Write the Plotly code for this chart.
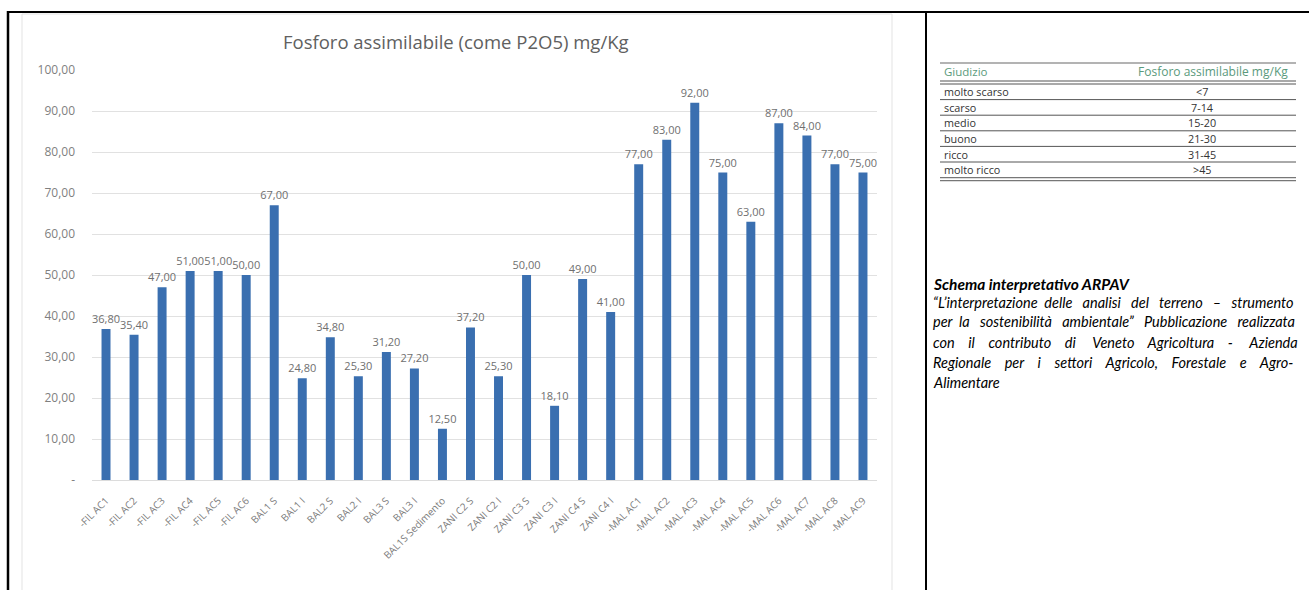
import plotly.graph_objects as go

# --- data -------------------------------------------------------------
samples = [
    "-FIL AC1", "-FIL AC2", "-FIL AC3", "-FIL AC4", "-FIL AC5", "-FIL AC6",
    "BAL1 S", "BAL1 I", "BAL2 S", "BAL2 I", "BAL3 S", "BAL3 I",
    "BAL1S Sedimento",
    "ZANI C2 S", "ZANI C2 I", "ZANI C3 S", "ZANI C3 I", "ZANI C4 S", "ZANI C4 I",
    "-MAL AC1", "-MAL AC2", "-MAL AC3", "-MAL AC4", "-MAL AC5",
    "-MAL AC6", "-MAL AC7", "-MAL AC8", "-MAL AC9",
]
phosphorus = [
    36.80, 35.40, 47.00, 51.00, 51.00, 50.00,
    67.00, 24.80, 34.80, 25.30, 31.20, 27.20,
    12.50,
    37.20, 25.30, 50.00, 18.10, 49.00, 41.00,
    77.00, 83.00, 92.00, 75.00, 63.00,
    87.00, 84.00, 77.00, 75.00,
]
y_ticks = [0, 10, 20, 30, 40, 50, 60, 70, 80, 90, 100]

classes = ["molto scarso", "scarso", "medio", "buono", "ricco", "molto ricco"]
class_ranges = ["<7", "7-14", "15-20", "21-30", "31-45", ">45"]

note_title = "Schema interpretativo ARPAV"
note_lines = [
    "\u201cL\u2019interpretazione delle analisi del terreno \u2013 strumento",
    "per la sostenibilit\u00e0 ambientale\u201d Pubblicazione realizzata",
    "con il contributo di Veneto Agricoltura - Azienda",
    "Regionale per i settori Agricolo, Forestale e Agro-",
    "Alimentare",
]

# --- page geometry (pixels) -------------------------------------------
W, H = 1309, 590


def px(x):
    return x / W


def py(y):
    return 1 - y / H


def fmt(v):
    return "-" if v == 0 else f"{v:.2f}".replace(".", ",")


def justify(line, extra):
    """Spread `extra` additional non-breaking spaces over the word gaps."""
    words = line.split(" ")
    gaps = len(words) - 1
    if gaps <= 0 or extra <= 0:
        return line
    out = words[0]
    for g in range(gaps):
        n = extra * (g + 1) // gaps - extra * g // gaps
        out += " " + "\u00a0" * n + words[g + 1]
    return out


fig = go.Figure()
fig.add_trace(go.Bar(
    x=samples,
    y=phosphorus,
    marker=dict(color="#3a6fb0", line=dict(width=0)),
    texttemplate="%{y:.2f}",
    textposition="outside",
    constraintext="none",
    textfont=dict(family="Open Sans", size=11, color="#6f6f6f"),
    cliponaxis=False,
    hoverinfo="x+y",
))

shapes = []
ann = []

# outer frame lines of the two-cell layout
black = "#000000"
shapes.append(dict(type="line", xref="paper", yref="paper",
                   x0=px(8), x1=px(8), y0=py(11), y1=py(592),
                   line=dict(color=black, width=2.5)))
shapes.append(dict(type="line", xref="paper", yref="paper",
                   x0=px(7), x1=px(1309), y0=py(12), y1=py(12),
                   line=dict(color=black, width=2)))
shapes.append(dict(type="line", xref="paper", yref="paper",
                   x0=px(926), x1=px(926), y0=py(12), y1=py(592),
                   line=dict(color=black, width=2)))
# chart picture edge
shapes.append(dict(type="rect", xref="paper", yref="paper",
                   x0=px(22), x1=px(892), y0=py(14), y1=py(592),
                   line=dict(color="#e3e3e3", width=1)))

# chart title
ann.append(dict(xref="paper", yref="paper", x=px(456), y=py(41),
                text="Fosforo assimilabile (come P2O5) mg/Kg", showarrow=False,
                xanchor="center", yanchor="middle",
                font=dict(family="Open Sans", size=18.5, color="#606060")))

# --- interpretation table ---------------------------------------------
t_left, t_right = 940, 1296
green = "#5a9a7c"
rule = "#555555"
ann.append(dict(xref="paper", yref="paper", x=px(942), y=py(72),
                text="Giudizio", showarrow=False, xanchor="left", yanchor="middle",
                font=dict(family="Open Sans", size=11.5, color=green)))
ann.append(dict(xref="paper", yref="paper", x=px(1290), y=py(72),
                text="Fosforo assimilabile mg/Kg", showarrow=False,
                xanchor="right", yanchor="middle",
                font=dict(family="Open Sans", size=12, color=green)))
for yl, w, c in [(63, 1.5, "#9a9a9a"), (81, 1.2, rule), (84, 1.2, rule)]:
    shapes.append(dict(type="line", xref="paper", yref="paper",
                       x0=px(t_left), x1=px(t_right), y0=py(yl), y1=py(yl),
                       line=dict(color=c, width=w)))
row_top, row_h = 84, 15.6
for i, (c, r) in enumerate(zip(classes, class_ranges)):
    yc = row_top + row_h * (i + 0.5)
    ann.append(dict(xref="paper", yref="paper", x=px(942), y=py(yc),
                    text=c, showarrow=False, xanchor="left", yanchor="middle",
                    font=dict(family="Open Sans", size=10.8, color="#333333")))
    ann.append(dict(xref="paper", yref="paper", x=px(1202), y=py(yc),
                    text=r, showarrow=False, xanchor="center", yanchor="middle",
                    font=dict(family="Open Sans", size=10.8, color="#333333")))
    yb = row_top + row_h * (i + 1)
    if i < len(classes) - 1:
        shapes.append(dict(type="line", xref="paper", yref="paper",
                           x0=px(t_left), x1=px(t_right), y0=py(yb), y1=py(yb),
                           line=dict(color=rule, width=1)))
    else:
        for yy in (yb, yb + 3):
            shapes.append(dict(type="line", xref="paper", yref="paper",
                               x0=px(t_left), x1=px(t_right), y0=py(yy), y1=py(yy),
                               line=dict(color="#777777", width=1.2)))

# --- source note --------------------------------------------------------
ann.append(dict(xref="paper", yref="paper", x=px(931), y=py(284),
                text=f"<b><i>{note_title}</i></b>", showarrow=False,
                xanchor="left", yanchor="middle",
                font=dict(family="Lato", size=15.5, color="#000000")))
# extra spacing per line so the paragraph reads as justified
line_fill = [11, 9, 23, 21, 0]
for i, (line, extra) in enumerate(zip(note_lines, line_fill)):
    ann.append(dict(xref="paper", yref="paper", x=px(931), y=py(302 + 20 * i),
                    text=f"<i>{justify(line, extra)}</i>", showarrow=False,
                    xanchor="left", yanchor="middle",
                    font=dict(family="Lato", size=14.5, color="#000000")))

fig.update_layout(
    width=W, height=H,
    margin=dict(l=0, r=0, t=0, b=0, pad=0, autoexpand=False),
    paper_bgcolor="white", plot_bgcolor="white",
    separators=",.",
    showlegend=False,
    bargap=0.68,
    shapes=shapes,
    annotations=ann,
    xaxis=dict(
        domain=[px(92), px(877)],
        tickangle=-45,
        tickfont=dict(family="Open Sans", size=10, color="#7a7a7a"),
        showgrid=False,
        showline=True, linecolor="#dcdcdc", linewidth=1,
        ticks="", ticklabelstandoff=10,
        automargin=False,
        fixedrange=True,
    ),
    yaxis=dict(
        domain=[py(480), py(70)],
        range=[0, 100],
        tickvals=y_ticks,
        ticktext=[fmt(v) for v in y_ticks],
        tickfont=dict(family="Open Sans", size=12, color="#7f7f7f"),
        showgrid=True, gridcolor="#e1e1e1", gridwidth=1,
        zeroline=False, showline=False,
        ticklabelstandoff=16,
        automargin=False,
        fixedrange=True,
    ),
)

fig.write_html("out.html")
